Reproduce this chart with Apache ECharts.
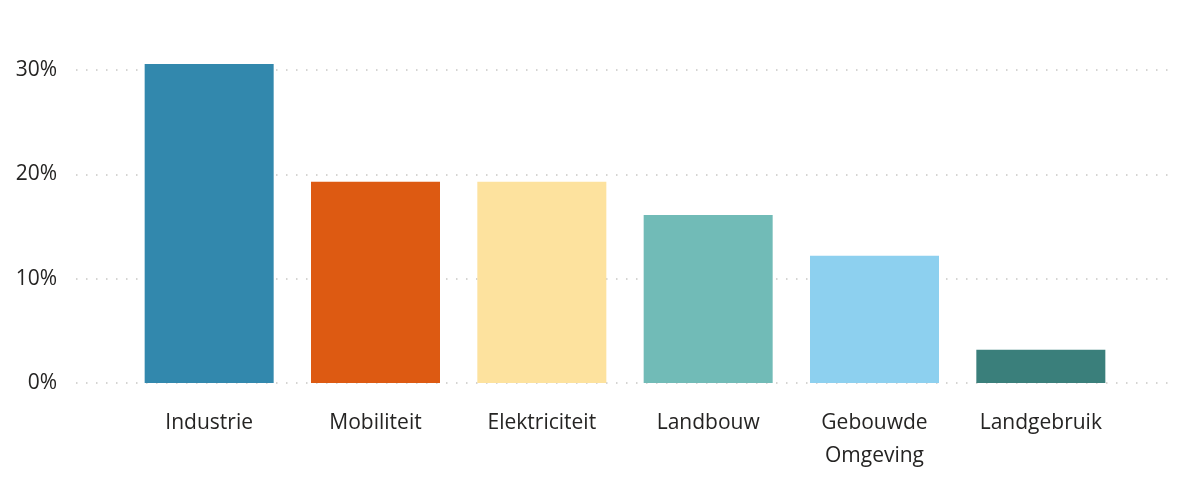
<!DOCTYPE html>
<html>
<head>
<meta charset="utf-8">
<script src="https://cdn.jsdelivr.net/npm/echarts@6/dist/echarts.min.js"></script>
<style>
  html, body { margin: 0; padding: 0; background: #fff; }
  #chart { width: 1179px; height: 484px; }
</style>
</head>
<body>
<div id="chart"></div>
<script>
// emissie-aandeel per sector (%)
const categories = ['Industrie', 'Mobiliteit', 'Elektriciteit', 'Landbouw', 'Gebouwde Omgeving', 'Landgebruik'];
const shares = [30.6, 19.3, 19.3, 16.1, 12.2, 3.2];
const barColors = ['#3288ad', '#dd5a12', '#fde29e', '#71bbb7', '#8dd0ef', '#3a7f7b'];
const tickValues = [0, 10, 20, 30];

const font = '"Open Sans", "Noto Sans", sans-serif';
const textColor = '#252423';

const chart = echarts.init(document.getElementById('chart'));

const option = {
  animation: false,
  grid: [
    // grid for gridlines + y labels
    { left: 76, right: 6, top: 70, bottom: 101 },
    // grid for bars
    { left: 126, right: 55, top: 18, bottom: 101 }
  ],
  xAxis: [
    { type: 'category', gridIndex: 0, data: [''], show: false },
    {
      type: 'category',
      gridIndex: 1,
      data: categories,
      axisLine: { show: false },
      axisTick: { show: false },
      axisLabel: {
        color: textColor,
        fontFamily: font,
        fontSize: 21,
        lineHeight: 33,
        margin: 24,
        formatter: v => v.replace(' ', '\n')
      }
    }
  ],
  yAxis: [
    {
      type: 'value',
      gridIndex: 0,
      min: tickValues[0],
      max: tickValues[tickValues.length - 1],
      interval: 10,
      axisLine: { show: false },
      axisTick: { show: false },
      axisLabel: {
        color: textColor,
        fontFamily: font,
        fontSize: 21,
        margin: 19,
        formatter: v => v + '%'
      },
      splitLine: {
        lineStyle: { color: '#c8c6c4', width: 1.5, type: [1.5, 8.5] }
      }
    },
    {
      type: 'value',
      gridIndex: 1,
      min: 0,
      max: 35,
      show: false,
      splitLine: { show: false }
    }
  ],
  series: [
    {
      type: 'bar',
      xAxisIndex: 1,
      yAxisIndex: 1,
      barWidth: 129,
      data: shares.map((v, i) => ({ value: v, itemStyle: { color: barColors[i] } }))
    }
  ]
};

chart.setOption(option);
</script>
</body>
</html>
